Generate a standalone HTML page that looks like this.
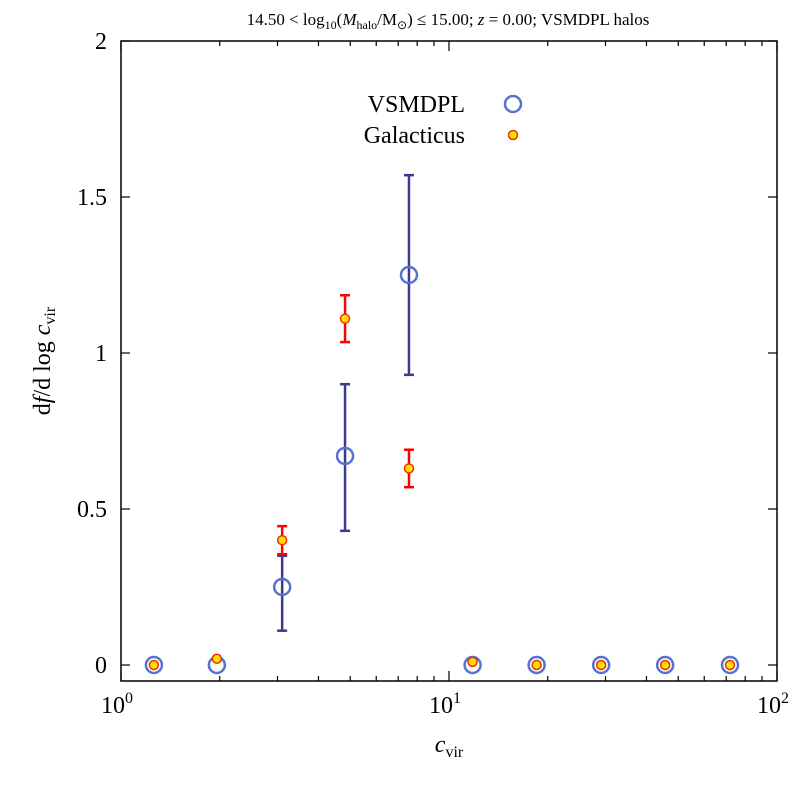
<!DOCTYPE html>
<html><head><meta charset="utf-8"><style>
body{margin:0;background:#fff}
svg{display:block;font-family:"Liberation Serif",serif}
</style></head><body>
<svg id="chart" width="800" height="800" xmlns="http://www.w3.org/2000/svg">
<text x="448" y="25" text-anchor="middle" font-size="17">14.50 &lt; log<tspan font-size="12" dy="4">10</tspan><tspan dy="-4">(</tspan><tspan font-style="italic">M</tspan><tspan font-size="12" dy="4">halo</tspan><tspan dy="-4">/M</tspan><tspan font-size="12" dy="4">⊙</tspan><tspan dy="-4">) ≤ 15.00; </tspan><tspan font-style="italic">z</tspan> = 0.00; VSMDPL halos</text>
<text x="449" y="752" text-anchor="middle" font-size="24" font-style="italic">c<tspan font-style="normal" font-size="16" dy="5">vir</tspan></text>
<text transform="translate(50,361) rotate(-90)" text-anchor="middle" font-size="24">d<tspan font-style="italic">f</tspan>/d log <tspan font-style="italic">c</tspan><tspan font-size="16" dy="5">vir</tspan></text>
<g id="axes"></g>
<g id="marks"></g>
<g>
<text x="465" y="112" text-anchor="end" font-size="24">VSMDPL</text>
<circle cx="513" cy="104" r="8" fill="none" stroke="#5a72cf" stroke-width="2.5"/>
<text x="465" y="143" text-anchor="end" font-size="24">Galacticus</text>
<circle cx="513" cy="135" r="4.5" fill="#ffe000" stroke="#f03000" stroke-width="1.5"/>
</g>
</svg>
<script>
const cvir=[1.26,1.96,3.10,4.82,7.55,11.8,18.5,29.1,45.6,71.9];
const vsmdplY=[0,0,0.25,0.67,1.25,0,0,0,0,0];
const vsmdplLo=[0,0,0.11,0.43,0.93,0,0,0,0,0];
const vsmdplHi=[0,0,0.35,0.90,1.57,0,0,0,0,0];
const galY=[0,0.02,0.40,1.11,0.63,0.01,0,0,0,0];
const galLo=[0,0.02,0.355,1.035,0.57,0.01,0,0,0,0];
const galHi=[0,0.02,0.445,1.185,0.69,0.01,0,0,0,0];
const yTicks=[0,0.5,1,1.5,2];
const yTickLabels=["0","0.5","1","1.5","2"];
const xDecades=[1,10,100];

const L=121,R=777,T=41,B=681;
const xs=v=>L+(Math.log10(v))/2*(R-L);
const ys=v=>665-v*312;
const NS="http://www.w3.org/2000/svg";
function mk(tag,attrs,parent){const e=document.createElementNS(NS,tag);for(const k in attrs)e.setAttribute(k,attrs[k]);parent.appendChild(e);return e;}
const axes=document.getElementById('axes'),marks=document.getElementById('marks');
const fr=mk('rect',{x:L,y:T,width:R-L,height:B-T,fill:'none',stroke:'#000','stroke-width':1.5},axes);


yTicks.forEach((t,i)=>{
  const y=ys(t);
  const a=mk('line',{x1:L,x2:L+9,y1:y,y2:y,stroke:'#000','stroke-width':1.2},axes);
  
  
  mk('line',{x1:R,x2:R-9,y1:y,y2:y,stroke:'#000','stroke-width':1.2},axes);
  const tx=mk('text',{x:L-14,y:y+8,'text-anchor':'end','font-size':24},axes);
  tx.textContent=yTickLabels[i];
  
  
});
for(let d=0;d<2;d++){for(let m=2;m<=9;m++){const x=xs(Math.pow(10,d)*m);
  mk('line',{x1:x,x2:x,y1:B,y2:B-5,stroke:'#000','stroke-width':1.2},axes);
  mk('line',{x1:x,x2:x,y1:T,y2:T+5,stroke:'#000','stroke-width':1.2},axes);}}
xDecades.forEach((v,i)=>{const x=xs(v);
  mk('line',{x1:x,x2:x,y1:B,y2:B-10,stroke:'#000','stroke-width':1.2},axes);
  mk('line',{x1:x,x2:x,y1:T,y2:T+10,stroke:'#000','stroke-width':1.2},axes);
  const tx=mk('text',{x:x-4,y:713,'text-anchor':'middle','font-size':24},axes);
  tx.textContent='10';
  const s=mk('tspan',{'font-size':16,dy:-10},tx);s.textContent=String(i);
  
  
});
function errbar(x,lo,hi,col){
  if(hi-lo<0.001)return;
  const g=mk('g',{stroke:col,'stroke-width':2.5},marks);
  
  
  mk('line',{x1:x,x2:x,y1:ys(lo),y2:ys(hi)},g);
  mk('line',{x1:x-5,x2:x+5,y1:ys(lo),y2:ys(lo)},g);
  mk('line',{x1:x-5,x2:x+5,y1:ys(hi),y2:ys(hi)},g);
}
cvir.forEach((c,i)=>{errbar(xs(c),vsmdplLo[i],vsmdplHi[i],'#3b3a8e');});
cvir.forEach((c,i)=>{const p=mk('circle',{cx:xs(c),cy:ys(vsmdplY[i]),r:8,fill:'none',stroke:'#5a72cf','stroke-width':2.5},marks);
  
  });
cvir.forEach((c,i)=>{errbar(xs(c),galLo[i],galHi[i],'#ff0000');});
cvir.forEach((c,i)=>{const p=mk('circle',{cx:xs(c),cy:ys(galY[i]),r:4.5,fill:'#ffe000',stroke:'#f03000','stroke-width':1.5},marks);
  
  });
</script>
</body></html>
